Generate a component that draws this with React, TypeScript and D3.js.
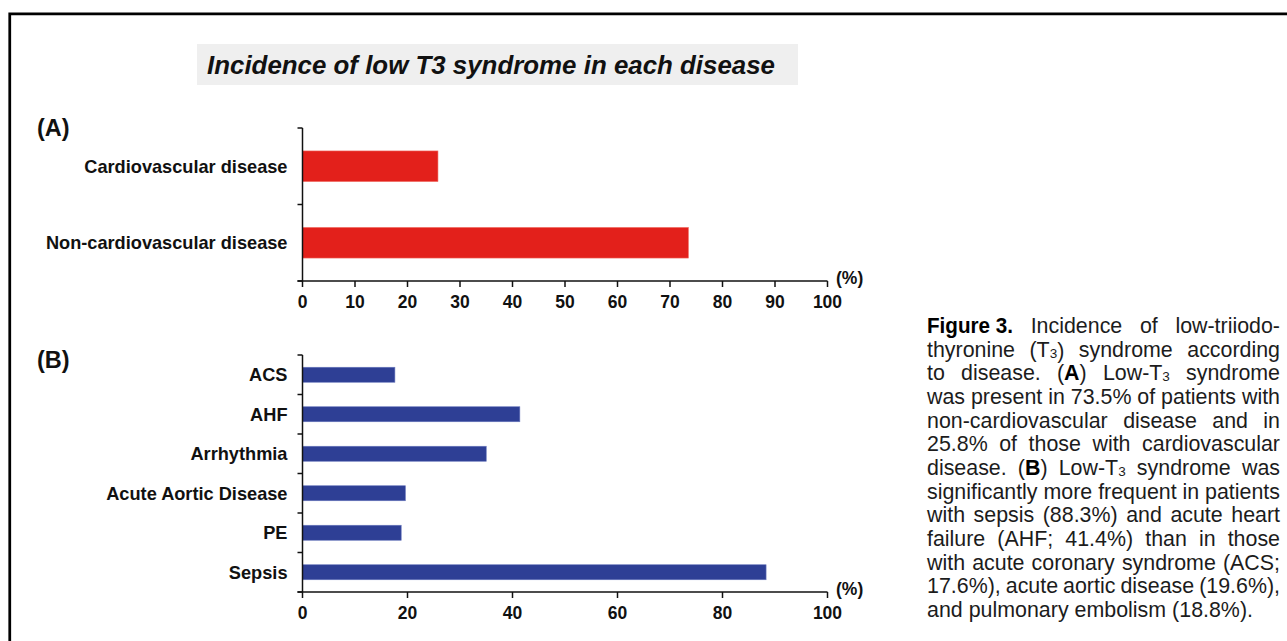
import React, { useEffect, useRef } from "react";
import * as d3 from "d3";

// ---------- data ----------
const catsA = ["Cardiovascular disease", "Non-cardiovascular disease"];
const valsA = [25.8, 73.5];
const ticksA = [0, 10, 20, 30, 40, 50, 60, 70, 80, 90, 100];

const catsB = ["ACS", "AHF", "Arrhythmia", "Acute Aortic Disease", "PE", "Sepsis"];
const valsB = [17.6, 41.4, 35.0, 19.6, 18.8, 88.3];
const ticksB = [0, 20, 40, 60, 80, 100];

const titleText = "Incidence of low T3 syndrome in each disease";
const unitLabel = "(%)";

const captionLines = [
  "##Figure\u00a03.## Incidence of low-triiodo-",
  "thyronine (T_3_) syndrome according",
  "to disease. (**A**) Low-T_3_ syndrome",
  "was present in 73.5% of patients with",
  "non-cardiovascular disease and in",
  "25.8% of those with cardiovascular",
  "disease. (**B**) Low-T_3_ syndrome was",
  "significantly more frequent in patients",
  "with sepsis (88.3%) and acute heart",
  "failure (AHF; 41.4%) than in those",
  "with acute coronary syndrome (ACS;",
  "17.6%), acute aortic disease (19.6%),",
  "and pulmonary embolism (18.8%).",
];

const W = 1287;
const H = 641;
const FONT = "'Liberation Sans', Arial, Helvetica, sans-serif";
const RED = "#e3201b";
const BLUE = "#2e3f95";

const CAP_X0 = 927;
const CAP_X1 = 1280;
const CAP_Y0 = 333;
const CAP_DY = 23.67;

function parseWord(w: string) {
  const parts = w.split(/(\*\*[^*]+\*\*|_[^_]+_|##[^#]+##)/).filter((p) => p.length > 0);
  return parts.map((p) => {
    if (p.startsWith("**")) return { t: p.slice(2, -2), kind: "bold" };
    if (p.startsWith("##")) return { t: p.slice(2, -2), kind: "fig" };
    if (p.startsWith("_")) return { t: p.slice(1, -1), kind: "sub" };
    return { t: p, kind: "normal" };
  });
}

function Panel({
  cats, vals, ticks, color, y0, y1, barFrac, label, labelY, tickLabelDy,
}: {
  cats: string[]; vals: number[]; ticks: number[]; color: string;
  y0: number; y1: number; barFrac: number; label: string; labelY: number; tickLabelDy: number;
}) {
  const x = d3.scaleLinear().domain([0, 100]).range([302.5, 827.5]);
  const y = d3.scaleBand<string>().domain(cats).range([y0, y1]).padding(0);
  const step = y.step();
  const bh = step * barFrac;
  const boundaries = [...cats.map((c) => y(c) as number), y1];
  return (
    <g>
      <text x={37} y={labelY} fontFamily={FONT} fontWeight="bold" fontSize={23.5} fill="#111">
        {label}
      </text>
      {cats.map((c, i) => (
        <rect
          key={c}
          x={x(0)}
          y={(y(c) as number) + (step - bh) / 2}
          width={x(vals[i]) - x(0)}
          height={bh}
          fill={color}
          stroke={color === BLUE ? "#6a78bd" : "#f06a60"}
          strokeWidth={0.6}
        />
      ))}
      {cats.map((c) => (
        <text
          key={"l" + c}
          x={287.5}
          y={(y(c) as number) + step / 2}
          dy="0.35em"
          textAnchor="end"
          fontFamily={FONT}
          fontWeight="bold"
          fontSize={18.2}
          fill="#111"
        >
          {c}
        </text>
      ))}
      {/* y axis */}
      <line x1={x(0)} x2={x(0)} y1={y0} y2={y1} stroke="#111" strokeWidth={1.5} />
      {boundaries.map((b, i) => (
        <line key={"yt" + i} x1={x(0) - 5} x2={x(0)} y1={b} y2={b} stroke="#111" strokeWidth={1.5} />
      ))}
      {/* x axis */}
      <line x1={x(0) - 5} x2={x(100)} y1={y1} y2={y1} stroke="#111" strokeWidth={1.5} />
      {ticks.map((t) => (
        <g key={"xt" + t}>
          <line x1={x(t)} x2={x(t)} y1={y1} y2={y1 + 6} stroke="#111" strokeWidth={1.5} />
          <text
            x={x(t)}
            y={y1 + tickLabelDy}
            textAnchor="middle"
            fontFamily={FONT}
            fontWeight="bold"
            fontSize={17.5}
            fill="#111"
          >
            {t}
          </text>
        </g>
      ))}
      <text x={836} y={y1 + 3} fontFamily={FONT} fontWeight="bold" fontSize={17.5} fill="#111">
        {unitLabel}
      </text>
    </g>
  );
}

export default function App() {
  const ref = useRef<SVGSVGElement>(null);

  useEffect(() => {
    if (!ref.current) return;
    const svg = d3.select(ref.current);
    svg.selectAll<SVGGElement, unknown>("g.capline").each(function () {
      const g = this as SVGGElement;
      const justify = g.getAttribute("data-justify") === "1";
      const words = Array.from(g.querySelectorAll("text")) as SVGTextElement[];
      const widths = words.map((w) => {
        const tl = w.getAttribute("data-w");
        return tl ? parseFloat(tl) : w.getComputedTextLength();
      });
      const total = d3.sum(widths);
      const gap = justify && words.length > 1 ? (CAP_X1 - CAP_X0 - total) / (words.length - 1) : 6;
      let xx = CAP_X0;
      words.forEach((w, i) => {
        w.setAttribute("x", String(xx));
        xx += widths[i] + gap;
      });
    });
  }, []);

  return (
    <div style={{ position: "fixed", left: 0, top: 0, width: W, height: H, background: "#fff" }}>
      <svg ref={ref} width={W} height={H} style={{ display: "block" }}>
        <rect x={0} y={0} width={W} height={H} fill="#fff" />
        {/* frame */}
        <path d={`M ${W + 5} 13.75 H 9.75 V ${H + 5}`} fill="none" stroke="#000" strokeWidth={2.75} />

        {/* title */}
        <rect x={197} y={44} width={601} height={41} fill="#efefef" />
        <text
          x={207}
          y={74}
          fontFamily={FONT}
          fontWeight="bold"
          fontStyle="italic"
          fontSize={26.5}
          textLength={568}
          lengthAdjust="spacingAndGlyphs"
          fill="#111"
        >
          {titleText}
        </text>

        <Panel
          cats={catsA}
          vals={valsA}
          ticks={ticksA}
          color={RED}
          y0={128}
          y1={281}
          barFrac={0.4}
          label="(A)"
          labelY={136}
          tickLabelDy={27}
        />
        <Panel
          cats={catsB}
          vals={valsB}
          ticks={ticksB}
          color={BLUE}
          y0={355}
          y1={592}
          barFrac={0.38}
          label="(B)"
          labelY={368}
          tickLabelDy={26.5}
        />

        {/* caption */}
        {captionLines.map((line, li) => {
          const words = line.split(" ");
          return (
            <g key={li} className="capline" data-justify={li < captionLines.length - 1 ? "1" : "0"}>
              {words.map((w, wi) => {
                const segs = parseWord(w);
                const isFig = segs.some((s) => s.kind === "fig");
                return (
                  <text
                    key={wi}
                    x={CAP_X0}
                    y={CAP_Y0 + li * CAP_DY}
                    fontFamily={FONT}
                    fontSize={21.4}
                    fill="#1c1c1c"
                    data-w={isFig ? "86" : undefined}
                    textLength={isFig ? 86 : undefined}
                    lengthAdjust={isFig ? "spacingAndGlyphs" : undefined}
                  >
                    {segs.map((s, si) => {
                      if (s.kind === "bold")
                        return (
                          <tspan key={si} fontWeight="bold" fill="#000">
                            {s.t}
                          </tspan>
                        );
                      if (s.kind === "fig")
                        return (
                          <tspan key={si} fontWeight="bold" fontSize={22} fill="#000">
                            {s.t}
                          </tspan>
                        );
                      if (s.kind === "sub")
                        return (
                          <tspan key={si} fontSize={13.5} dy={1}>
                            {s.t}
                          </tspan>
                        );
                      return <tspan key={si}>{s.t}</tspan>;
                    })}
                  </text>
                );
              })}
            </g>
          );
        })}
      </svg>
    </div>
  );
}
